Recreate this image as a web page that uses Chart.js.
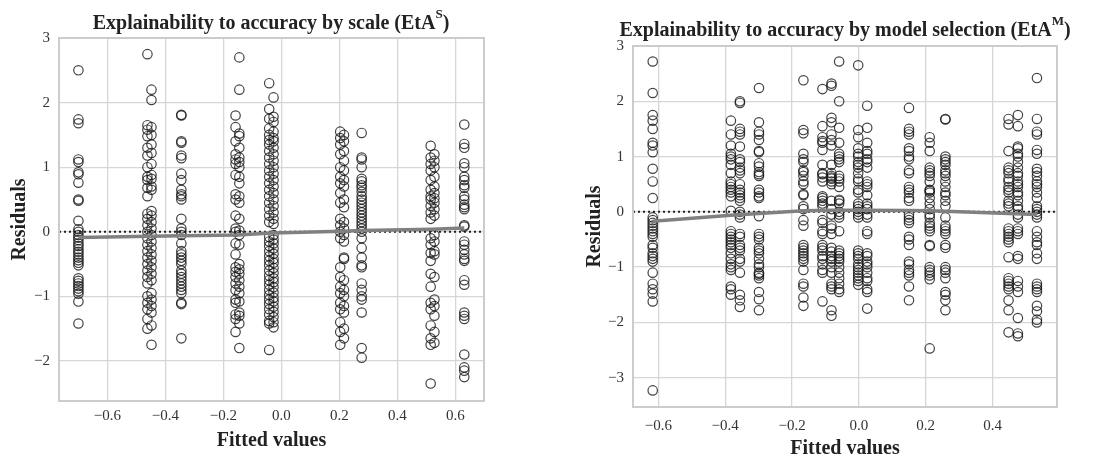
<!DOCTYPE html>
<html>
<head>
<meta charset="utf-8">
<script src="https://cdn.jsdelivr.net/npm/chart.js@4"></script>
<style>
  body { margin: 0; background: #fff; }
  #wrap { position: relative; width: 1102px; height: 457px; }
  .box { position: absolute; top: 0; height: 457px; }
</style>
</head>
<body>
<div id="wrap">
  <div class="box" style="left:0;width:540px"><canvas id="scale-chart"></canvas></div>
  <div class="box" style="left:560px;width:542px"><canvas id="model-chart"></canvas></div>
</div>
<script>
// ---- left panel: EtA^S ----
const scaleFitted = [-0.70, -0.462, -0.448, -0.345, -0.158, -0.145, -0.042, -0.027, 0.203, 0.216, 0.277, 0.515, 0.528, 0.631];
const scaleResiduals = [
  [2.50, 1.74, 1.68, 1.12, 1.08, 0.92, 0.89, 0.76, 0.50, 0.48, 0.17, 0.04, 0.0, -0.05, -0.09, -0.13, -0.18, -0.22, -0.27, -0.31, -0.35, -0.40, -0.44, -0.48, -0.52, -0.72, -0.76, -0.80, -0.84, -0.88, -0.92, -0.96, -1.08, -1.42],
  [2.75, 1.65, 1.58, 1.48, 1.30, 1.18, 1.00, 0.85, 0.80, 0.68, 0.55, 0.28, 0.20, 0.10, 0.0, -0.10, -0.20, -0.30, -0.40, -0.50, -0.60, -0.70, -0.80, -1.00, -1.10, -1.20, -1.35, -1.50],
  [2.20, 2.04, 1.62, 1.50, 1.35, 1.22, 1.05, 0.88, 0.82, 0.70, 0.65, 0.32, 0.25, 0.15, 0.05, -0.05, -0.15, -0.25, -0.35, -0.45, -0.55, -0.65, -0.75, -0.95, -1.05, -1.15, -1.25, -1.45, -1.75],
  [1.81, 1.80, 1.40, 1.38, 1.18, 1.14, 0.90, 0.80, 0.65, 0.58, 0.55, 0.50, 0.20, 0.05, 0.0, -0.05, -0.18, -0.30, -0.35, -0.40, -0.45, -0.50, -0.60, -0.65, -0.70, -0.75, -0.80, -0.85, -0.90, -0.95, -1.10, -1.12, -1.65],
  [1.80, 1.62, 1.40, 1.20, 1.12, 1.05, 0.88, 0.58, 0.50, 0.25, 0.05, 0.0, -0.18, -0.35, -0.55, -0.62, -0.70, -0.80, -0.90, -1.05, -1.10, -1.28, -1.35, -1.55],
  [2.70, 2.20, 1.52, 1.48, 1.30, 1.15, 1.08, 1.00, 0.85, 0.75, 0.55, 0.45, 0.20, 0.02, -0.05, -0.20, -0.50, -0.58, -0.65, -0.75, -0.85, -0.95, -1.08, -1.25, -1.30, -1.42, -1.80],
  [2.30, 1.90, 1.75, 1.60, 1.50, 1.42, 1.35, 1.25, 1.15, 1.05, 0.95, 0.85, 0.75, 0.65, 0.55, 0.45, 0.35, 0.25, 0.15, -0.08, -0.15, -0.22, -0.30, -0.38, -0.45, -0.52, -0.60, -0.68, -0.75, -0.82, -0.90, -0.98, -1.05, -1.12, -1.20, -1.28, -1.38, -1.42, -1.83],
  [2.08, 1.78, 1.70, 1.55, 1.45, 1.40, 1.30, 1.20, 1.10, 1.00, 0.90, 0.80, 0.70, 0.60, 0.50, 0.40, 0.30, 0.20, 0.12, -0.05, -0.12, -0.18, -0.26, -0.34, -0.42, -0.48, -0.56, -0.64, -0.72, -0.78, -0.86, -0.94, -1.02, -1.08, -1.16, -1.24, -1.32, -1.40, -1.48],
  [1.55, 1.45, 1.35, 1.20, 1.00, 0.85, 0.75, 0.60, 0.45, 0.20, 0.10, 0.0, -0.10, -0.55, -0.70, -0.85, -0.95, -1.10, -1.20, -1.40, -1.55, -1.75],
  [1.50, 1.40, 1.25, 1.10, 0.95, 0.80, 0.70, 0.50, 0.38, 0.15, 0.05, -0.05, -0.15, -0.40, -0.42, -0.75, -0.90, -1.00, -1.15, -1.25, -1.50, -1.65],
  [1.53, 1.15, 1.12, 1.00, 0.82, 0.78, 0.72, 0.68, 0.62, 0.55, 0.50, 0.45, 0.40, 0.35, 0.30, 0.25, 0.20, 0.15, 0.10, 0.05, 0.0, -0.10, -0.25, -0.40, -0.52, -0.55, -0.80, -0.90, -1.00, -1.05, -1.25, -1.80, -1.95],
  [1.33, 1.15, 1.05, 0.95, 0.80, 0.65, 0.55, 0.50, 0.40, 0.30, 0.20, -0.10, -0.20, -0.33, -0.45, -0.65, -0.85, -1.10, -1.20, -1.45, -1.65, -1.75, -2.35],
  [1.20, 1.10, 1.00, 0.85, 0.70, 0.60, 0.52, 0.45, 0.35, 0.25, -0.05, -0.15, -0.30, -0.35, -0.70, -1.05, -1.15, -1.30, -1.55, -1.72],
  [1.66, 1.36, 1.30, 1.06, 1.00, 0.85, 0.80, 0.72, 0.68, 0.55, 0.50, 0.42, 0.38, 0.35, 0.10, 0.08, -0.15, -0.20, -0.28, -0.35, -0.42, -0.45, -0.75, -0.82, -1.25, -1.30, -1.35, -1.90, -2.10, -2.15, -2.25]
];
const scaleSmoothX = [-0.70, -0.455, -0.345, -0.15, -0.035, 0.21, 0.277, 0.52, 0.631];
const scaleSmoothY = [-0.09, -0.07, -0.06, -0.05, -0.02, 0.01, 0.02, 0.04, 0.06];
const scaleXTicks = [-0.6, -0.4, -0.2, 0.0, 0.2, 0.4, 0.6];
const scaleYTicks = [-2, -1, 0, 1, 2, 3];

// ---- right panel: EtA^M ----
const modelFitted = [-0.617, -0.383, -0.356, -0.299, -0.166, -0.109, -0.082, -0.059, -0.002, 0.025, 0.150, 0.212, 0.259, 0.448, 0.476, 0.533];
const modelResiduals = [
  [2.72, 2.15, 1.75, 1.65, 1.50, 1.25, 1.20, 1.08, 0.78, 0.55, 0.25, -0.10, -0.15, -0.20, -0.25, -0.30, -0.35, -0.40, -0.45, -0.60, -0.65, -0.75, -0.80, -0.85, -0.90, -1.10, -1.30, -1.40, -1.48, -1.62, -3.23],
  [1.65, 1.40, 1.20, 1.05, 1.00, 0.95, 0.85, 0.70, 0.55, 0.50, 0.45, 0.40, 0.35, 0.28, 0.02, -0.35, -0.40, -0.45, -0.50, -0.55, -0.60, -0.65, -0.75, -0.85, -0.95, -1.00, -1.05, -1.35, -1.40, -1.50],
  [2.00, 1.97, 1.50, 1.45, 1.40, 1.18, 0.95, 0.90, 0.80, 0.75, 0.70, 0.50, 0.40, 0.35, 0.30, 0.25, 0.20, 0.0, -0.05, -0.10, -0.40, -0.45, -0.60, -0.65, -0.70, -0.85, -0.90, -1.10, -1.50, -1.60, -1.72],
  [2.24, 1.62, 1.45, 1.40, 1.30, 1.10, 1.08, 0.88, 0.82, 0.72, 0.68, 0.65, 0.40, 0.35, 0.28, 0.25, -0.08, -0.40, -0.45, -0.50, -0.65, -0.70, -0.75, -0.85, -0.95, -1.00, -1.10, -1.12, -1.15, -1.20, -1.45, -1.58, -1.78],
  [2.38, 1.48, 1.42, 1.05, 0.95, 0.90, 0.75, 0.72, 0.65, 0.55, 0.50, 0.32, 0.30, 0.10, 0.05, -0.15, -0.25, -0.60, -0.65, -0.70, -0.75, -0.80, -0.85, -0.90, -1.05, -1.30, -1.35, -1.55, -1.70],
  [2.22, 1.55, 1.35, 1.28, 1.25, 1.12, 0.85, 0.70, 0.68, 0.62, 0.55, 0.28, 0.25, 0.20, 0.15, 0.10, -0.15, -0.20, -0.35, -0.40, -0.60, -0.65, -0.70, -0.80, -0.85, -0.95, -1.05, -1.10, -1.62],
  [2.32, 2.28, 1.70, 1.62, 1.40, 1.30, 1.20, 0.85, 0.70, 0.65, 0.62, 0.60, 0.55, 0.50, 0.20, 0.05, -0.05, -0.25, -0.30, -0.40, -0.65, -0.72, -0.80, -0.85, -0.90, -1.00, -1.10, -1.30, -1.35, -1.40, -1.78, -1.88],
  [2.72, 2.00, 1.52, 1.25, 1.05, 1.00, 0.95, 0.90, 0.65, 0.60, 0.55, 0.45, 0.22, 0.20, 0.15, 0.0, -0.05, -0.10, -0.35, -0.70, -0.75, -0.80, -0.85, -0.90, -1.00, -1.10, -1.20, -1.30, -1.40, -1.45],
  [2.65, 1.48, 1.35, 1.15, 1.05, 1.00, 0.90, 0.85, 0.80, 0.70, 0.60, 0.55, 0.40, 0.35, 0.15, 0.10, 0.05, 0.0, -0.05, -0.10, -0.70, -0.75, -0.80, -0.85, -0.95, -1.00, -1.05, -1.10, -1.15, -1.20, -1.25, -1.32],
  [1.92, 1.52, 1.25, 1.10, 1.05, 0.95, 0.90, 0.80, 0.55, 0.50, 0.45, 0.30, 0.15, 0.10, 0.05, -0.05, -0.10, -0.35, -0.40, -0.75, -0.80, -0.90, -0.95, -1.00, -1.10, -1.20, -1.25, -1.40, -1.45, -1.75],
  [1.88, 1.50, 1.45, 1.40, 1.15, 1.10, 1.00, 0.95, 0.75, 0.70, 0.45, 0.40, 0.35, 0.25, 0.20, -0.05, -0.10, -0.15, -0.20, -0.45, -0.50, -0.60, -0.90, -0.95, -1.05, -1.10, -1.15, -1.35, -1.60],
  [1.35, 1.25, 1.10, 0.80, 0.75, 0.70, 0.65, 0.55, 0.40, 0.38, 0.35, 0.25, 0.15, 0.05, -0.05, -0.10, -0.20, -0.25, -0.30, -0.35, -0.60, -0.62, -1.00, -1.05, -1.10, -1.15, -1.22, -2.47],
  [1.68, 1.67, 1.00, 0.95, 0.90, 0.85, 0.75, 0.70, 0.65, 0.55, 0.45, 0.35, 0.30, 0.20, 0.10, -0.10, -0.25, -0.30, -0.35, -0.40, -0.60, -0.65, -1.00, -1.05, -1.10, -1.20, -1.45, -1.50, -1.60, -1.78],
  [1.68, 1.58, 1.10, 0.80, 0.75, 0.70, 0.60, 0.55, 0.45, 0.40, 0.35, 0.20, 0.15, 0.10, -0.30, -0.35, -0.40, -0.45, -0.50, -0.55, -0.82, -1.20, -1.25, -1.30, -1.35, -1.40, -1.60, -1.78, -2.18],
  [1.75, 1.55, 1.18, 1.15, 1.05, 1.00, 0.90, 0.80, 0.70, 0.65, 0.55, 0.50, 0.45, 0.35, 0.30, 0.20, 0.10, 0.05, -0.05, -0.10, -0.30, -0.35, -0.40, -0.80, -0.85, -1.25, -1.35, -1.45, -1.92, -2.20, -2.25],
  [2.42, 1.68, 1.45, 1.40, 1.12, 1.05, 0.78, 0.72, 0.65, 0.55, 0.50, 0.45, 0.35, 0.25, 0.10, 0.05, 0.0, -0.05, -0.10, -0.35, -0.45, -0.55, -0.60, -0.75, -0.85, -1.30, -1.35, -1.40, -1.45, -1.70, -1.80, -1.95, -2.00]
];
const modelSmoothX = [-0.617, -0.383, -0.299, -0.166, -0.082, -0.002, 0.150, 0.212, 0.259, 0.448, 0.533];
const modelSmoothY = [-0.17, -0.06, -0.03, 0.02, 0.03, 0.03, 0.025, 0.02, 0.01, -0.03, -0.05];
const modelXTicks = [-0.6, -0.4, -0.2, 0.0, 0.2, 0.4];
const modelYTicks = [-3, -2, -1, 0, 1, 2, 3];

const SERIF = "'Liberation Serif', 'DejaVu Serif', serif";
const minus = v => (v < 0 ? '\u2212' : '') + Math.abs(v);

function makeChart(id, o) {
  const pts = [];
  o.fitted.forEach((fx, i) => o.resid[i].forEach(r => pts.push({ x: fx, y: r })));
  const smooth = o.sx.map((x, i) => ({ x: x, y: o.sy[i] }));

  // dotted zero line, plot frame and title with superscript
  const extras = {
    id: 'extras',
    beforeDatasetsDraw(chart) {
      const a = chart.chartArea, y0 = chart.scales.y.getPixelForValue(0);
      const c = chart.ctx;
      c.save();
      c.strokeStyle = '#222';
      c.lineWidth = 2;
      c.setLineDash([2, 3]);
      c.beginPath(); c.moveTo(a.left, y0); c.lineTo(a.right, y0); c.stroke();
      c.restore();
    },
    afterDraw(chart) {
      const a = chart.chartArea, c = chart.ctx;
      c.save();
      c.strokeStyle = '#cccccc';
      c.lineWidth = 2;
      c.strokeRect(a.left, a.top, a.right - a.left, a.bottom - a.top);
      c.fillStyle = '#222';
      c.textBaseline = 'alphabetic';
      const big = 'bold 20px ' + SERIF, small = 'bold 13px ' + SERIF;
      c.font = big;
      const w1 = c.measureText(o.title).width;
      c.font = small;
      const w2 = c.measureText(o.sup).width;
      c.font = big;
      const w3 = c.measureText(')').width;
      let x = o.titleX - (w1 + w2 + w3) / 2;
      c.fillText(o.title, x, o.titleY); x += w1;
      c.font = small;
      c.fillText(o.sup, x, o.titleY - 11); x += w2;
      c.font = big;
      c.fillText(')', x, o.titleY);
      c.restore();
    }
  };

  return new Chart(document.getElementById(id), {
    type: 'scatter',
    data: {
      datasets: [{
        type: 'line',
        data: smooth,
        borderColor: '#808080',
        borderWidth: 3.5,
        pointRadius: 0,
        fill: false,
        order: 0
      }, {
        data: pts,
        pointRadius: 4.7,
        pointBorderWidth: 1.2,
        pointBorderColor: 'rgba(25,25,25,0.82)',
        pointBackgroundColor: 'rgba(0,0,0,0)',
        order: 1
      }]
    },
    options: {
      responsive: true,
      maintainAspectRatio: false,
      animation: false,
      layout: { padding: { top: o.top, right: o.right, left: o.left, bottom: 0 } },
      plugins: { legend: { display: false }, tooltip: { enabled: false } },
      scales: {
        x: {
          type: 'linear', min: o.xmin, max: o.xmax,
          afterBuildTicks: s => { s.ticks = o.xt.map(v => ({ value: v })); },
          afterFit: s => { s.height = o.xh; },
          grid: { color: '#d6d6d6', lineWidth: 1.3, drawTicks: false },
          border: { display: false },
          ticks: { color: '#333', padding: o.tickPad, font: { family: SERIF, size: 15 },
                   callback: v => (v < 0 ? '\u2212' : '') + Math.abs(v).toFixed(1) },
          title: { display: true, text: 'Fitted values', color: '#222', padding: { top: 0, bottom: o.titlePad },
                   font: { family: SERIF, size: 20, weight: 'bold' } }
        },
        y: {
          type: 'linear', min: o.ymin, max: o.ymax,
          afterBuildTicks: s => { s.ticks = o.yt.map(v => ({ value: v })); },
          afterFit: s => { s.width = o.yw; },
          grid: { color: '#d6d6d6', lineWidth: 1.3, drawTicks: false },
          border: { display: false },
          ticks: { color: '#333', padding: 9, font: { family: SERIF, size: 15 }, callback: minus },
          title: { display: true, text: 'Residuals', color: '#222', padding: { top: 0, bottom: 0 },
                   font: { family: SERIF, size: 20, weight: 'bold' } }
        }
      }
    },
    plugins: [extras]
  });
}

makeChart('scale-chart', {
  fitted: scaleFitted, resid: scaleResiduals, sx: scaleSmoothX, sy: scaleSmoothY,
  xt: scaleXTicks, yt: scaleYTicks,
  xmin: -0.767, xmax: 0.699, ymin: -2.62, ymax: 3.0,
  top: 38, right: 56, left: 8, yw: 51, xh: 56, tickPad: 6, titlePad: 4,
  title: 'Explainability to accuracy by scale (EtA', sup: 'S', titleX: 271, titleY: 29
});

makeChart('model-chart', {
  fitted: modelFitted, resid: modelResiduals, sx: modelSmoothX, sy: modelSmoothY,
  xt: modelXTicks, yt: modelYTicks,
  xmin: -0.676, xmax: 0.593, ymin: -3.53, ymax: 3.0,
  top: 46, right: 45, left: 23, yw: 50, xh: 50, tickPad: 10, titlePad: -4,
  title: 'Explainability to accuracy by model selection (EtA', sup: 'M', titleX: 285, titleY: 36
});
</script>
</body>
</html>
